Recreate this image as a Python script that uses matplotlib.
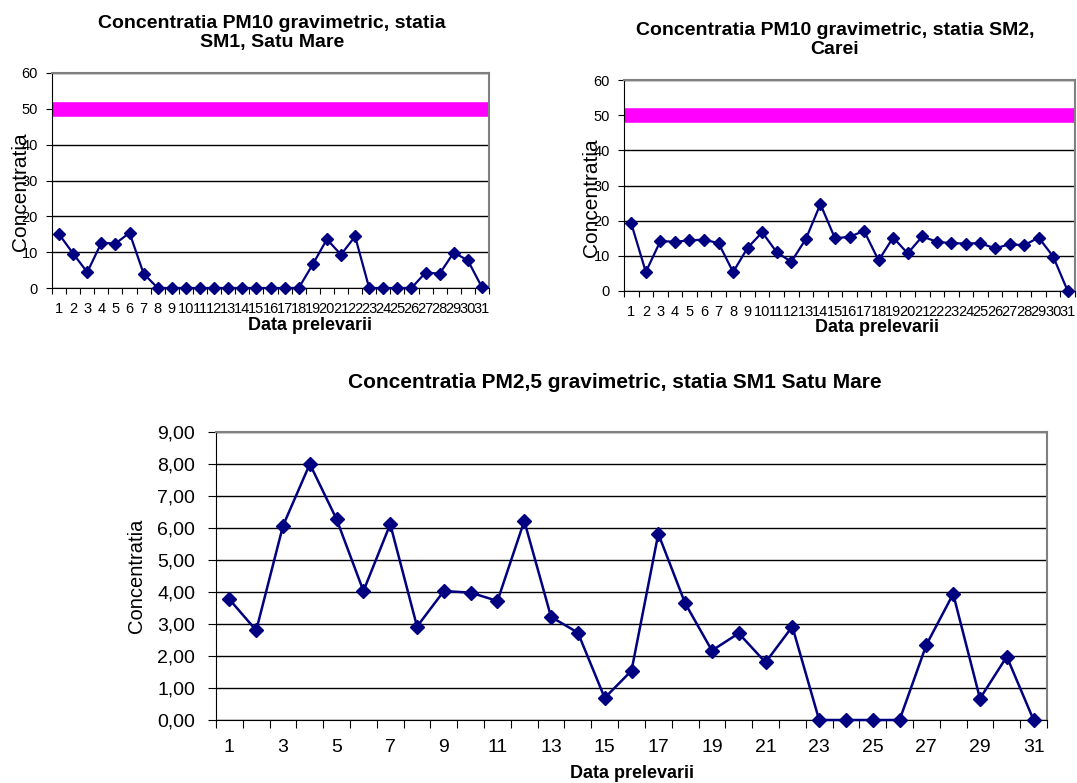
import matplotlib
matplotlib.use("Agg")
import matplotlib.pyplot as plt
import numpy as np

plt.rcParams['font.family'] = ['Liberation Sans', 'DejaVu Sans']

zile = list(range(1, 32))

# PM10 SM1 Satu Mare
pm10_sm1 = [15.0, 9.6, 4.4, 12.6, 12.4, 15.4, 4.0, 0, 0, 0, 0, 0, 0, 0, 0, 0, 0, 0,
            6.6, 13.6, 9.3, 14.4, 0, 0, 0, 0, 4.3, 4.0, 9.9, 7.7, 0.2]
# PM10 SM2 Carei
pm10_sm2 = [19.2, 5.4, 14.2, 14.0, 14.4, 14.6, 13.6, 5.4, 12.3, 16.7, 11.0, 8.3, 14.8,
            24.7, 15.0, 15.4, 17.1, 8.7, 15.2, 10.7, 15.5, 14.0, 13.6, 13.5, 13.6,
            12.1, 13.3, 13.0, 15.2, 9.8, 0]
# PM2,5 SM1 Satu Mare
pm25_sm1 = [3.77, 2.80, 6.07, 8.00, 6.27, 4.03, 6.12, 2.92, 4.03, 3.98, 3.72, 6.22,
            3.22, 2.73, 0.69, 1.54, 5.82, 3.65, 2.17, 2.71, 1.80, 2.92, 0, 0, 0, 0,
            2.35, 3.94, 0.67, 1.98, 0]
valoare_limita = 50

NAVY = '#000080'
W, H = 1077, 783
fig = plt.figure(figsize=(W / 100, H / 100), dpi=100)


def ax_px(x0, y0, x1, y1):
    return fig.add_axes([x0 / W, 1 - y1 / H, (x1 - x0) / W, (y1 - y0) / H])


def stil_axa(ax):
    for s in ['top', 'right']:
        ax.spines[s].set_color('#808080')
        ax.spines[s].set_linewidth(1.5)
    ax.spines['left'].set_color('black')
    ax.spines['bottom'].set_color('black')
    ax.yaxis.grid(True, color='black', linewidth=1)
    ax.set_axisbelow(True)
    ax.set_xlim(0.5, 31.5)


def grafic_pm10(ax, valori, lx, ly, xx, xy):
    stil_axa(ax)
    ax.axhline(valoare_limita, color='#FF00FF', linewidth=10.5, zorder=2)
    ax.plot(zile, valori, color=NAVY, marker='D', markersize=6.5, linewidth=1.6, zorder=3,
            clip_on=False)
    ax.set_ylim(0, 60)
    ax.set_yticks(range(0, 61, 10))
    ax.set_xticks(np.arange(0.5, 32, 1))
    ax.set_xticklabels([])
    ax.set_xticks(zile, minor=True)
    ax.set_xticklabels([str(z) for z in zile], minor=True, fontsize=10.5)
    ax.tick_params(axis='x', which='minor', length=0, pad=10)
    ax.tick_params(axis='x', which='major', length=4)
    ax.tick_params(axis='y', labelsize=10.5, length=4, pad=6)
    ax.set_xlabel('Data prelevarii', fontsize=13, fontweight='bold', va='top')
    ax.xaxis.set_label_coords(xx, xy)
    ax.set_ylabel('Concentratia', fontsize=15)
    ax.yaxis.set_label_coords(lx, ly)


ax1 = ax_px(52, 73, 489, 288)
grafic_pm10(ax1, pm10_sm1, -0.05, 0.447, 0.59, -0.135)
fig.text(272 / W, 1 - 33 / H, 'Concentratia PM10 gravimetric, statia\nSM1, Satu Mare',
         ha='center', va='center', fontsize=14, fontweight='bold', linespacing=1.15)

ax2 = ax_px(624, 80, 1075, 291)
grafic_pm10(ax2, pm10_sm2, -0.05, 0.44, 0.561, -0.133)
fig.text(835 / W, 1 - 40 / H, 'Concentratia PM10 gravimetric, statia SM2,\nCarei',
         ha='center', va='center', fontsize=14, fontweight='bold', linespacing=1.15)

ax3 = ax_px(216, 432, 1047, 720)
stil_axa(ax3)
ax3.plot(zile, pm25_sm1, color=NAVY, marker='D', markersize=7.2, linewidth=1.8, zorder=3,
         clip_on=False)
ax3.set_ylim(0, 9)
ax3.set_yticks(range(0, 10))
ax3.set_yticklabels(['%d,00' % v for v in range(0, 10)], fontsize=14)
ax3.set_xticks(np.arange(0.5, 32, 1))
ax3.set_xticklabels([])
ax3.set_xticks(zile[::2], minor=True)
ax3.set_xticklabels([str(z) for z in zile[::2]], minor=True, fontsize=14)
ax3.tick_params(axis='x', which='minor', length=0, pad=14)
ax3.tick_params(axis='x', which='major', length=6)
ax3.tick_params(axis='y', length=6, pad=9)
ax3.set_xlabel('Data prelevarii', fontsize=13, fontweight='bold', va='top')
ax3.xaxis.set_label_coords(0.5, -0.156)
ax3.set_ylabel('Concentratia', fontsize=14.5)
ax3.yaxis.set_label_coords(-0.084, 0.5)
fig.text(615 / W, 1 - 383 / H, 'Concentratia PM2,5 gravimetric, statia SM1 Satu Mare',
         ha='center', va='center', fontsize=15, fontweight='bold')

fig.savefig('out.png', dpi=100)
